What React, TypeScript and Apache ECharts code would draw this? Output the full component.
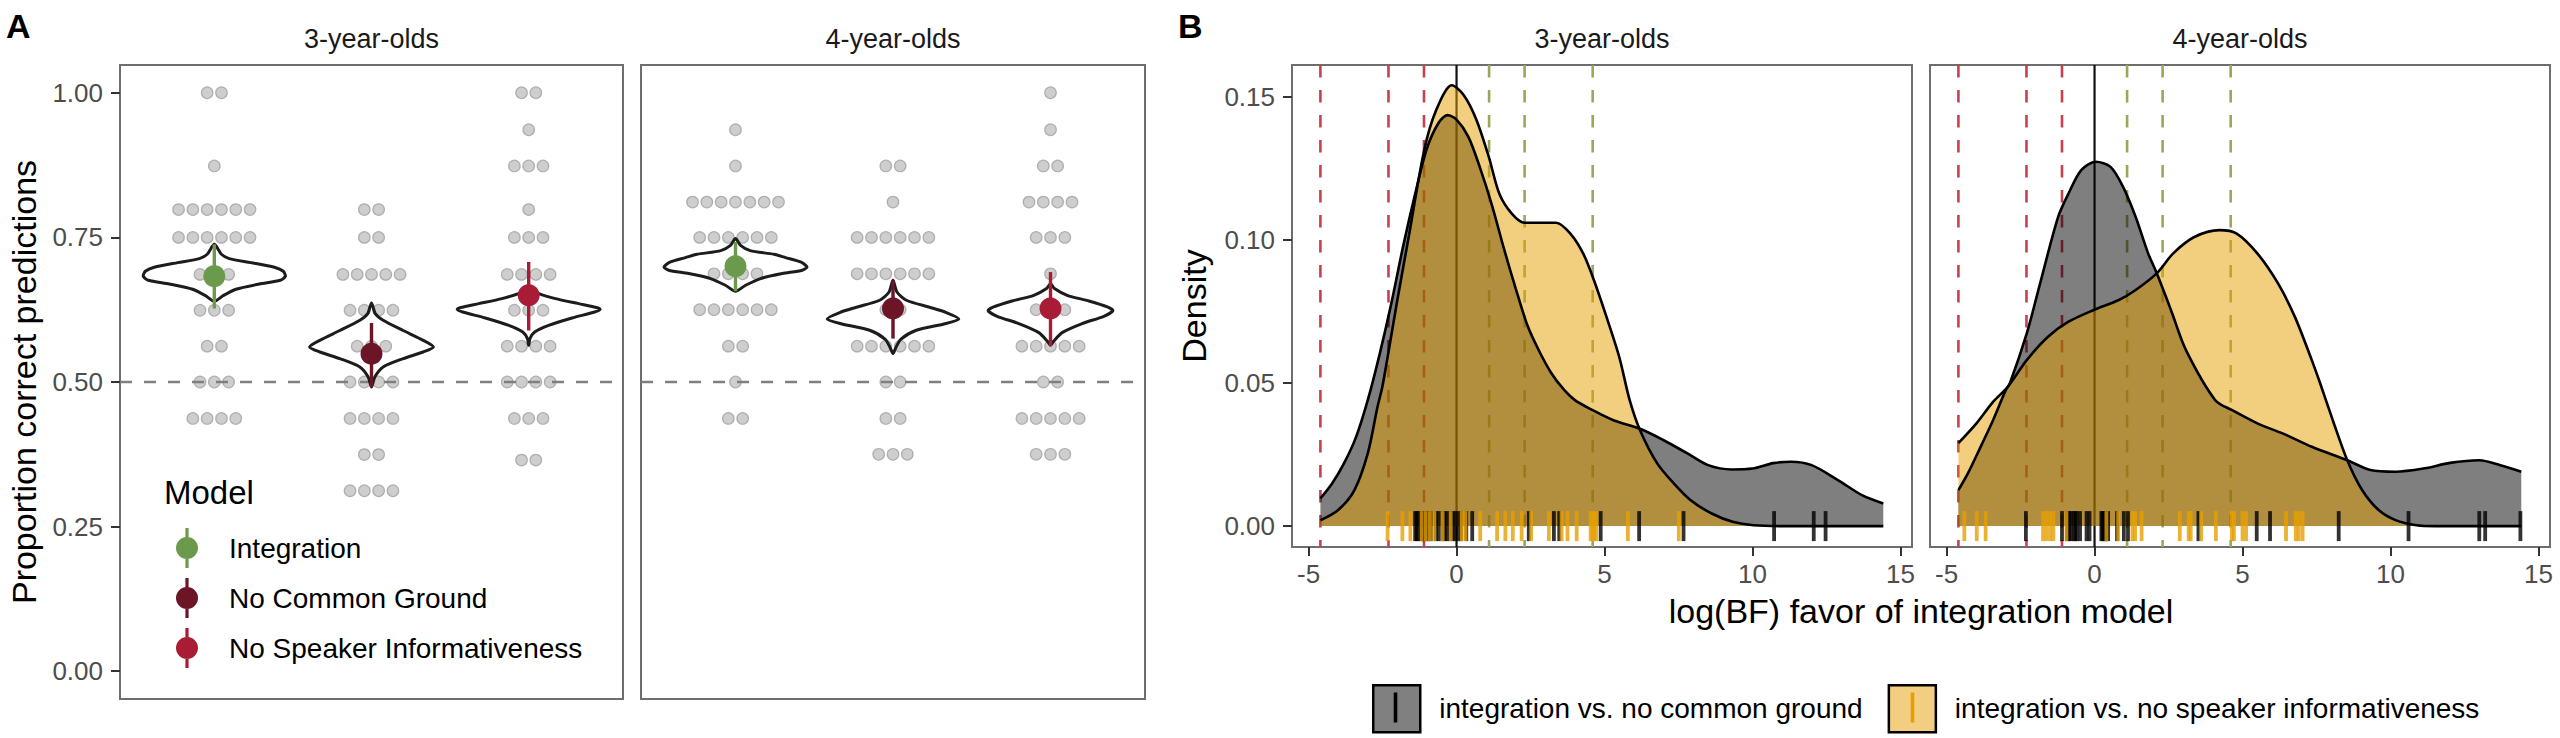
import React, { useEffect, useRef } from "react";
import * as echarts from "echarts";

const FONT = "'Liberation Sans', Arial, Helvetica, sans-serif";

// ---------------- Panel A data ----------------
const modelNames = ["Integration", "No Common Ground", "No Speaker Informativeness"];
const modelColors = ["#6b9a4d", "#6b1526", "#a81c36"];
const ageLabels = ["3-year-olds", "4-year-olds"];
const propTicks = [0, 0.25, 0.5, 0.75, 1.0];
const chanceLevel = [0.5];

// dot rows: [proportion correct, number of children]
const dots3Integration = [[1.0, 2], [0.8735, 1], [0.798, 6], [0.75, 6], [0.686, 3], [0.624, 3], [0.562, 2], [0.5, 3], [0.437, 4]];
const dots3NoCG = [[0.798, 2], [0.75, 2], [0.686, 5], [0.624, 4], [0.562, 3], [0.5, 4], [0.437, 4], [0.3745, 2], [0.312, 4]];
const dots3NoSI = [[1.0, 2], [0.936, 1], [0.8735, 3], [0.798, 1], [0.75, 3], [0.686, 4], [0.624, 3], [0.562, 4], [0.5, 4], [0.437, 3], [0.365, 2]];
const dots4Integration = [[0.936, 1], [0.8735, 1], [0.811, 7], [0.75, 6], [0.687, 4], [0.625, 6], [0.562, 2], [0.5, 1], [0.437, 2]];
const dots4NoCG = [[0.8735, 2], [0.811, 1], [0.75, 6], [0.687, 6], [0.625, 2], [0.562, 6], [0.5, 2], [0.437, 2], [0.375, 3]];
const dots4NoSI = [[1.0, 1], [0.936, 1], [0.8735, 2], [0.811, 4], [0.75, 3], [0.687, 1], [0.625, 3], [0.562, 5], [0.5, 2], [0.437, 5], [0.375, 3]];

// model means and intervals
const means3 = [0.683, 0.549, 0.65];
const lower3 = [0.627, 0.491, 0.589];
const upper3 = [0.738, 0.602, 0.7075];
const means4 = [0.7, 0.627, 0.627];
const lower4 = [0.657, 0.575, 0.562];
const upper4 = [0.742, 0.676, 0.69];

// violin outlines: [proportion, half width in category units]
const violin3Integration = [[0.738, 0], [0.7208, 0.045], [0.7133, 0.095], [0.7064, 0.233], [0.6983, 0.382], [0.6914, 0.439], [0.6827, 0.452], [0.6758, 0.42], [0.6694, 0.286], [0.6603, 0.138], [0.6487, 0.053], [0.6395, 0]];
const violin3NoCG = [[0.6366, 0], [0.6182, 0.024], [0.6067, 0.074], [0.589, 0.201], [0.572, 0.329], [0.5605, 0.394], [0.5519, 0.329], [0.5404, 0.201], [0.526, 0.074], [0.5086, 0.021], [0.4914, 0]];
const violin3NoSI = [[0.6615, 0], [0.6528, 0.064], [0.6442, 0.17], [0.6355, 0.318], [0.6286, 0.435], [0.6257, 0.454], [0.621, 0.42], [0.6107, 0.276], [0.598, 0.127], [0.5865, 0.038], [0.575, 0.008], [0.5635, 0]];
const violin4Integration = [[0.748, 0], [0.7363, 0.032], [0.7271, 0.093], [0.7208, 0.244], [0.715, 0.318], [0.7075, 0.413], [0.6988, 0.454], [0.6931, 0.424], [0.6874, 0.297], [0.6788, 0.159], [0.6672, 0.064], [0.6568, 0]];
const violin4NoCG = [[0.6758, 0], [0.6556, 0.025], [0.6413, 0.085], [0.6292, 0.233], [0.62, 0.339], [0.609, 0.418], [0.6003, 0.324], [0.5894, 0.148], [0.5738, 0.049], [0.5588, 0.017], [0.549, 0]];
const violin4NoSI = [[0.67, 0], [0.6615, 0.025], [0.6499, 0.106], [0.64, 0.244], [0.6297, 0.361], [0.6234, 0.396], [0.6136, 0.339], [0.601, 0.201], [0.5854, 0.074], [0.5709, 0.021], [0.5635, 0]];

// ---------------- Panel B data ----------------
const bfTicks = [-5, 0, 5, 10, 15];
const densityTicks = [0, 0.05, 0.1, 0.15];
const comparisonNames = ["integration vs. no common ground", "integration vs. no speaker informativeness"];
const againstThresholds = [-4.6, -2.3, -1.1];
const favorThresholds = [1.1, 2.3, 4.6];
const neutralLine = [0];

const density3CG = [[-4.6, 0.0097], [-4.2, 0.015], [-3.8, 0.022], [-3.4, 0.031], [-3.0, 0.044], [-2.6, 0.06], [-2.2, 0.078], [-1.8, 0.098], [-1.4, 0.116], [-1.0, 0.132], [-0.6, 0.141], [-0.3, 0.1436], [0.0, 0.142], [0.4, 0.136], [0.8, 0.125], [1.2, 0.112], [1.6, 0.097], [2.0, 0.083], [2.4, 0.07], [2.8, 0.061], [3.2, 0.0535], [3.6, 0.048], [4.0, 0.044], [4.6, 0.0405], [5.3, 0.037], [6.2, 0.034], [7.0, 0.03], [7.8, 0.0254], [8.5, 0.0213], [9.3, 0.0198], [10.0, 0.0201], [10.7, 0.022], [11.3, 0.0225], [12.0, 0.0213], [12.9, 0.016], [13.7, 0.0108], [14.42, 0.0079]];
const density3SI = [[-4.6, 0.002], [-4.0, 0.0056], [-3.45, 0.0126], [-3.0, 0.0254], [-2.67, 0.0417], [-2.5, 0.049], [-2.0, 0.079], [-1.6, 0.102], [-1.1, 0.131], [-0.7, 0.145], [-0.16, 0.154], [0.24, 0.1506], [0.67, 0.142], [1.09, 0.129], [1.45, 0.116], [1.88, 0.109], [2.3, 0.106], [2.8, 0.106], [3.37, 0.106], [3.86, 0.102], [4.29, 0.095], [4.64, 0.086], [5.07, 0.073], [5.5, 0.059], [5.85, 0.044], [6.2, 0.0335], [6.78, 0.0219], [7.34, 0.0149], [7.9, 0.0091], [8.62, 0.0044], [9.33, 0.0015], [10.04, 0.0003], [11.0, 0], [14.42, 0]];
const density4CG = [[-4.6, 0.0126], [-4.28, 0.0184], [-3.85, 0.0277], [-3.43, 0.037], [-3.0, 0.0475], [-2.86, 0.0499], [-2.29, 0.0673], [-1.87, 0.0836], [-1.23, 0.108], [-0.88, 0.1162], [-0.45, 0.1244], [0.04, 0.1273], [0.54, 0.1255], [0.96, 0.1186], [1.39, 0.108], [1.81, 0.0953], [2.1, 0.0884], [2.6, 0.075], [3.09, 0.0615], [4.08, 0.044], [4.65, 0.0405], [5.5, 0.0359], [6.49, 0.0318], [7.34, 0.0277], [8.54, 0.023], [9.32, 0.0196], [10.17, 0.019], [11.16, 0.0202], [12.01, 0.0221], [13.0, 0.023], [13.71, 0.0213], [14.42, 0.019]];
const density4SI = [[-4.6, 0.029], [-3.99, 0.0359], [-3.43, 0.0434], [-2.93, 0.0487], [-2.29, 0.058], [-1.59, 0.066], [-0.88, 0.0714], [-0.03, 0.0755], [0.82, 0.079], [1.39, 0.0825], [2.1, 0.0883], [2.66, 0.0953], [3.37, 0.101], [4.22, 0.1034], [4.79, 0.1023], [5.5, 0.0953], [6.2, 0.0848], [6.77, 0.0731], [7.34, 0.058], [7.62, 0.05], [8.05, 0.037], [8.54, 0.023], [9.04, 0.0126], [9.6, 0.0056], [10.17, 0.0021], [10.88, 0.0003], [11.5, 0], [14.42, 0]];

const rug3CG = [-1.4, -1.35, -1.29, -1.2, -1.15, -1.09, -1.0, -0.95, -0.87, -0.7, -0.6, -0.47, -0.4, -0.33, -0.23, -0.13, -0.05, 0.07, 0.15, 0.33, 0.53, 2.44, 3.29, 3.47, 4.87, 6.17, 7.67, 10.73, 12.07, 12.47];
const rug3SI = [-2.33, -1.83, -1.56, -1.18, -1.04, -0.9, -0.75, -0.47, -0.2, 0.17, 0.3, 0.8, 1.37, 1.65, 1.9, 2.2, 2.52, 3.12, 3.55, 3.75, 4.06, 4.53, 4.6, 4.65, 4.72, 5.79, 7.51];
const rug4CG = [-2.32, -1.1, -0.93, -0.85, -0.8, -0.7, -0.65, -0.6, -0.49, -0.27, -0.17, 0.23, 0.27, 0.31, 0.35, 0.4, 0.46, 0.76, 0.99, 1.13, 3.51, 5.48, 5.93, 8.25, 10.61, 13.0, 13.2, 14.39];
const rug4SI = [-4.4, -3.98, -3.68, -1.74, -1.62, -1.5, -1.39, -0.95, 0.4, 0.8, 1.28, 1.37, 1.59, 2.88, 3.18, 3.25, 3.6, 4.1, 4.64, 4.71, 5.0, 5.12, 6.47, 6.8, 6.9, 7.03];

// ---------------- helpers ----------------
const DOT_STEP = 0.091; // horizontal spacing of stacked dots (category units)
const tickColor = "#333333";
const labelColor = "#4d4d4d";
const borderColor = "#6e6e6e";

function facetASeries(f: number, dotRows: number[][][], violins: number[][][], means: number[], lower: number[], upper: number[]) {
  const axis = { xAxisIndex: f, yAxisIndex: f };
  const dotData: number[][] = [];
  dotRows.forEach((rows, m) =>
    rows.forEach(([v, n]) => {
      for (let i = 0; i < n; i++) dotData.push([m + 1 + (i - (n - 1) / 2) * DOT_STEP, v]);
    })
  );
  const s: any[] = [];
  s.push({
    type: "scatter", ...axis, data: dotData, symbolSize: 11.5, silent: true, z: 1,
    itemStyle: { color: "#c2c2c2", borderColor: "#a0a0a0", borderWidth: 1.2 },
  });
  s.push({
    type: "custom", ...axis, z: 2, silent: true,
    data: chanceLevel.map((v) => [1, v]), encode: { x: 0, y: 1 },
    renderItem: (params: any, api: any) => {
      const cs = params.coordSys;
      const y = api.coord([1, api.value(1)])[1];
      return { type: "line", shape: { x1: cs.x, y1: y, x2: cs.x + cs.width, y2: y }, style: { stroke: "#7f7f7f", lineWidth: 2.5, lineDash: [12, 12] } };
    },
  });
  s.push({
    type: "custom", ...axis, z: 3, silent: true,
    data: violins.map((_, m) => [m + 1, means[m]]), encode: { x: 0, y: 1 },
    renderItem: (params: any, api: any) => {
      const prof = violins[params.dataIndex];
      const cx = api.value(0);
      const right = prof.map(([v, w]) => api.coord([cx + w, v]));
      const left = prof.slice(1, -1).reverse().map(([v, w]) => api.coord([cx - w, v]));
      return { type: "polygon", shape: { points: [...right, ...left], smooth: 0.25 }, style: { fill: "none", stroke: "#1c1c1c", lineWidth: 3 } };
    },
  });
  s.push({
    type: "custom", ...axis, z: 4, silent: true,
    data: means.map((_, m) => [m + 1, lower[m], upper[m]]), encode: { x: 0, y: [1, 2] },
    renderItem: (params: any, api: any) => {
      const x = api.value(0);
      const p1 = api.coord([x, api.value(1)]);
      const p2 = api.coord([x, api.value(2)]);
      return { type: "line", shape: { x1: p1[0], y1: p1[1], x2: p2[0], y2: p2[1] }, style: { stroke: modelColors[params.dataIndex], lineWidth: 3.4 } };
    },
  });
  modelNames.forEach((name, m) =>
    s.push({ type: "scatter", name, ...axis, data: [[m + 1, means[m]]], symbolSize: 22, z: 5, itemStyle: { color: modelColors[m], opacity: 1 } })
  );
  return s;
}

function facetBSeries(f: number, densCG: number[][], densSI: number[][], rugCG: number[], rugSI: number[]) {
  const axis = { xAxisIndex: f + 2, yAxisIndex: f + 2 };
  const vStyles = [
    { stroke: "#c9404f", lineWidth: 2.6, lineDash: [12.5, 12.5] },
    { stroke: "#98a85b", lineWidth: 2.6, lineDash: [12.5, 12.5] },
    { stroke: "#111111", lineWidth: 2.2 },
  ];
  const vData = [
    ...againstThresholds.map((v) => [v, 0, 0]),
    ...favorThresholds.map((v) => [v, 0, 1]),
    ...neutralLine.map((v) => [v, 0, 2]),
  ];
  return [
    {
      type: "custom", ...axis, z: 1, silent: true, data: vData, encode: { x: 0, y: 1 },
      renderItem: (params: any, api: any) => {
        const cs = params.coordSys;
        const x = api.coord([api.value(0), 0])[0];
        return { type: "line", shape: { x1: x, y1: cs.y, x2: x, y2: cs.y + cs.height }, style: vStyles[api.value(2)] };
      },
    },
    {
      type: "line", name: comparisonNames[0], ...axis, z: 2, data: densCG, smooth: 0.3, symbol: "none", silent: true,
      itemStyle: { color: "#000" }, lineStyle: { color: "#000", width: 2.6 }, areaStyle: { color: "rgba(0,0,0,0.5)", opacity: 1 },
    },
    {
      type: "line", name: comparisonNames[1], ...axis, z: 2, data: densSI, smooth: 0.3, symbol: "none", silent: true,
      itemStyle: { color: "#E69F00" }, lineStyle: { color: "#000", width: 2.6 }, areaStyle: { color: "rgba(230,159,0,0.5)", opacity: 1 },
    },
    {
      type: "scatter", name: comparisonNames[0], ...axis, z: 4, silent: true, data: rugCG.map((v) => [v, 0]),
      symbol: "rect", symbolSize: [3.8, 30], itemStyle: { color: "#000" },
    },
    {
      type: "scatter", name: comparisonNames[1], ...axis, z: 4, silent: true, data: rugSI.map((v) => [v, 0]),
      symbol: "rect", symbolSize: [3.8, 30], itemStyle: { color: "#E69F00" },
    },
  ];
}

function buildOption(): any {
  const gridA = [
    { left: 120, top: 65, width: 503, height: 634 },
    { left: 641, top: 65, width: 504, height: 634 },
  ];
  const gridB = [
    { left: 1292, top: 65, width: 620, height: 482 },
    { left: 1930, top: 65, width: 620, height: 482 },
  ];
  const grid = [...gridA, ...gridB].map((g) => ({ ...g, show: true, borderColor, borderWidth: 2, backgroundColor: "#ffffff" }));

  const tickStyle = { lineStyle: { color: tickColor, width: 2 } };
  const xAxis = [
    { gridIndex: 0, type: "value", min: 0.4, max: 3.6, show: false, axisLine: { onZero: false } },
    { gridIndex: 1, type: "value", min: 0.4, max: 3.6, show: false, axisLine: { onZero: false } },
    ...[2, 3].map((g) => ({
      gridIndex: g, type: "value", min: -5.56, max: 15.39, position: "bottom",
      axisLine: { show: false, onZero: false }, splitLine: { show: false },
      axisTick: { show: true, length: 9, customValues: bfTicks, ...tickStyle },
      axisLabel: { customValues: bfTicks, fontSize: 26, color: labelColor, margin: 14, fontFamily: FONT },
    })),
  ];
  const yAxis = [
    {
      gridIndex: 0, type: "value", min: -0.048, max: 1.048, position: "left",
      axisLine: { show: false, onZero: false }, splitLine: { show: false },
      axisTick: { show: true, length: 9, customValues: propTicks, ...tickStyle },
      axisLabel: { customValues: propTicks, fontSize: 26, color: labelColor, margin: 17, fontFamily: FONT, formatter: (v: number) => v.toFixed(2) },
    },
    { gridIndex: 1, type: "value", min: -0.048, max: 1.048, show: false, splitLine: { show: false }, axisLine: { onZero: false } },
    {
      gridIndex: 2, type: "value", min: -0.0073, max: 0.1611, position: "left",
      axisLine: { show: false, onZero: false }, splitLine: { show: false },
      axisTick: { show: true, length: 9, customValues: densityTicks, ...tickStyle },
      axisLabel: { customValues: densityTicks, fontSize: 26, color: labelColor, margin: 17, fontFamily: FONT, formatter: (v: number) => v.toFixed(2) },
    },
    { gridIndex: 3, type: "value", min: -0.0073, max: 0.1611, show: false, splitLine: { show: false }, axisLine: { onZero: false } },
  ];

  const series = [
    ...facetASeries(0, [dots3Integration, dots3NoCG, dots3NoSI], [violin3Integration, violin3NoCG, violin3NoSI], means3, lower3, upper3),
    ...facetASeries(1, [dots4Integration, dots4NoCG, dots4NoSI], [violin4Integration, violin4NoCG, violin4NoSI], means4, lower4, upper4),
    ...facetBSeries(0, density3CG, density3SI, rug3CG, rug3SI),
    ...facetBSeries(1, density4CG, density4SI, rug4CG, rug4SI),
  ];

  const txt = (text: string, x: number, y: number, fontSize: number, extra: any = {}) => ({
    type: "text", x, y, z: 20, silent: true, rotation: extra.rotation || 0,
    style: {
      text, fontSize, fontFamily: FONT, fontWeight: extra.bold ? "bold" : "normal",
      fill: extra.fill || "#000", textAlign: extra.align || "center", textVerticalAlign: "middle",
    },
  });

  const stripCenters = [
    (gridA[0].left * 2 + gridA[0].width) / 2, (gridA[1].left * 2 + gridA[1].width) / 2,
    (gridB[0].left * 2 + gridB[0].width) / 2, (gridB[1].left * 2 + gridB[1].width) / 2,
  ];

  const graphic = [
    txt("A", 6, 26, 34, { bold: true, align: "left" }),
    txt("B", 1178, 26, 34, { bold: true, align: "left" }),
    txt(ageLabels[0], stripCenters[0], 39, 27, { fill: "#1a1a1a" }),
    txt(ageLabels[1], stripCenters[1], 39, 27, { fill: "#1a1a1a" }),
    txt(ageLabels[0], stripCenters[2], 39, 27, { fill: "#1a1a1a" }),
    txt(ageLabels[1], stripCenters[3], 39, 27, { fill: "#1a1a1a" }),
    txt("Proportion correct predictions", 24, 382, 34, { rotation: Math.PI / 2 }),
    txt("Density", 1194, 306, 34, { rotation: Math.PI / 2 }),
    txt("log(BF) favor of integration model", 1921, 611, 34),
    txt("Model", 164, 492, 33, { align: "left" }),
    { type: "rect", z: 20, silent: true, shape: { x: 1395.5 - 1.8, y: 692.5, width: 3.6, height: 30 }, style: { fill: "#000" } },
    { type: "rect", z: 20, silent: true, shape: { x: 1912.5 - 1.8, y: 692.5, width: 3.6, height: 30 }, style: { fill: "#E69F00" } },
  ];

  const legend = [
    {
      orient: "vertical", left: 176, top: 528, padding: 0, itemWidth: 22, itemHeight: 40, itemGap: 10,
      selectedMode: false,
      icon: "path://M9.4,0H12.6V10H9.4ZM9.4,30H12.6V40H9.4ZM0,20A11,11,0,1,1,22,20A11,11,0,1,1,0,20Z",
      data: modelNames,
      textStyle: { fontSize: 28, color: "#000", fontFamily: FONT, padding: [0, 0, 0, 26] },
    },
    {
      orient: "horizontal", left: 1372, top: 684, padding: 0, itemWidth: 47, itemHeight: 47, itemGap: 25,
      selectedMode: false,
      data: [
        { name: comparisonNames[0], icon: "rect", itemStyle: { color: "#808080", borderColor: "#000", borderWidth: 2.5 } },
        { name: comparisonNames[1], icon: "rect", itemStyle: { color: "#f2cf80", borderColor: "#000", borderWidth: 2.5 } },
      ],
      textStyle: { fontSize: 28, color: "#000", fontFamily: FONT, padding: [0, 0, 0, 14] },
    },
  ];

  return {
    animation: false,
    backgroundColor: "#ffffff",
    textStyle: { fontFamily: FONT },
    grid, xAxis, yAxis, series, legend, graphic,
  };
}

export default function App() {
  const ref = useRef<HTMLDivElement>(null);
  useEffect(() => {
    if (!ref.current) return;
    const chart = echarts.init(ref.current, null, { renderer: "svg" });
    chart.setOption(buildOption());
    return () => chart.dispose();
  }, []);
  return <div ref={ref} style={{ position: "absolute", left: 0, top: 0, width: 2560, height: 738, background: "#fff" }} />;
}
